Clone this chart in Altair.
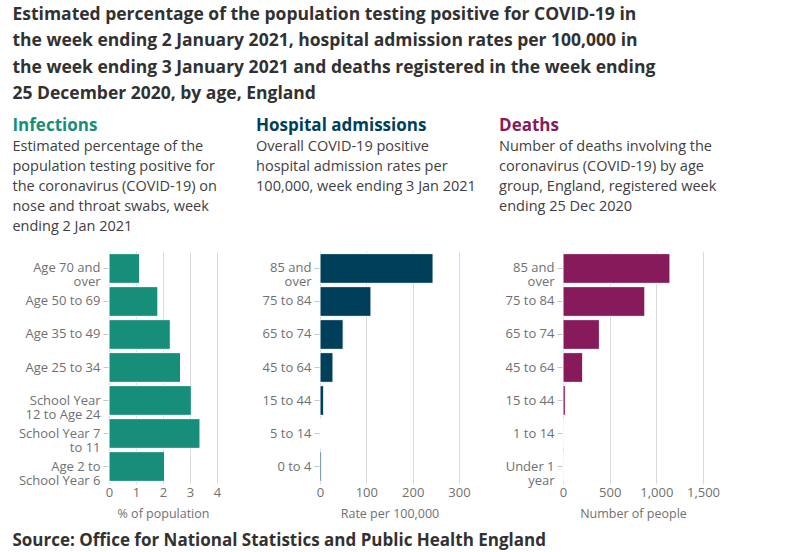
import altair as alt
import pandas as pd

# Infections: % testing positive, week ending 2 Jan 2021
inf_groups = ["Age 70 and over", "Age 50 to 69", "Age 35 to 49", "Age 25 to 34",
              "School Year 12 to Age 24", "School Year 7 to 11", "Age 2 to School Year 6"]
inf_values = [1.13, 1.81, 2.27, 2.65, 3.05, 3.37, 2.06]

# Hospital admissions per 100,000, week ending 3 Jan 2021
hosp_groups = ["85 and over", "75 to 84", "65 to 74", "45 to 64", "15 to 44", "5 to 14", "0 to 4"]
hosp_values = [244, 110, 50, 28, 8, 1, 3.5]

# Deaths registered, week ending 25 Dec 2020
death_groups = ["85 and over", "75 to 84", "65 to 74", "45 to 64", "15 to 44", "1 to 14", "Under 1 year"]
death_values = [1146, 877, 390, 211, 25, 0, 0]

# Where long category names break onto two lines
wrapped = {
    "Age 70 and over": ["Age 70 and", "over"],
    "School Year 12 to Age 24": ["School Year", "12 to Age 24"],
    "School Year 7 to 11": ["School Year 7", "to 11"],
    "Age 2 to School Year 6": ["Age 2 to", "School Year 6"],
    "85 and over": ["85 and", "over"],
    "Under 1 year": ["Under 1", "year"],
}

FONT = "Open Sans"
TEXT = "#414042"
AXIS = "#707071"


def label_expr():
    expr = "datum.label"
    for key, lines in wrapped.items():
        arr = "[" + ", ".join("'" + s + "'" for s in lines) + "]"
        expr = f"datum.label == '{key}' ? {arr} : ({expr})"
    return expr


def panel(groups, values, color, heading, desc, domain, ticks, xtitle, fmt, width):
    df = pd.DataFrame({"group": groups, "value": values})
    desc = desc + [" "] * (5 - len(desc))
    title = alt.TitleParams(
        heading, subtitle=desc, anchor="start", frame="bounds", dx=-6,
        font=FONT, fontSize=17, fontWeight="bold", color=color,
        subtitleFont=FONT, subtitleFontSize=14.5, subtitleColor=TEXT,
        subtitleLineHeight=20, subtitlePadding=5, offset=17,
    )
    return alt.Chart(df, title=title).mark_bar(
        color=color, stroke="white", strokeWidth=1
    ).encode(
        x=alt.X("value:Q",
                scale=alt.Scale(domain=domain, nice=False),
                axis=alt.Axis(values=ticks, title=xtitle, format=fmt,
                              grid=True, gridColor="#dcdcdc", ticks=False,
                              domain=False, labelPadding=2, titlePadding=8,
                              labelFlush=False, labelOverlap=False,
                              labelFont=FONT, labelFontSize=13, labelColor=AXIS,
                              titleFont=FONT, titleFontSize=12.5,
                              titleFontWeight="normal", titleColor=AXIS)),
        y=alt.Y("group:N", sort=groups,
                scale=alt.Scale(paddingInner=0.1, paddingOuter=0.08),
                axis=alt.Axis(title=None, domain=False, tickSize=6,
                              tickColor="#c8c8c8", labelPadding=3,
                              labelExpr=label_expr(), labelLineHeight=14,
                              labelFont=FONT, labelFontSize=13, labelColor=AXIS)),
        tooltip=["group:N", "value:Q"],
    ).properties(width=width, height=233)


infections = panel(
    inf_groups, inf_values, "#178e7a", "Infections",
    ["Estimated percentage of the", "population testing positive for",
     "the coronavirus (COVID-19) on", "nose and throat swabs, week",
     "ending 2 Jan 2021"],
    [0, 4], [0, 1, 2, 3, 4], "% of population", "d", 108,
)

hospital = panel(
    hosp_groups, hosp_values, "#003f5a", "Hospital admissions",
    ["Overall COVID-19 positive", "hospital admission rates per",
     "100,000, week ending 3 Jan 2021"],
    [0, 300], [0, 100, 200, 300], "Rate per 100,000", "d", 139,
)

deaths = panel(
    death_groups, death_values, "#861a5b", "Deaths",
    ["Number of deaths involving the", "coronavirus (COVID-19) by age",
     "group, England, registered week", "ending 25 Dec 2020"],
    [0, 1500], [0, 500, 1000, 1500], "Number of people", ",d", 140,
)

source = alt.TitleParams(
    "Source: Office for National Statistics and Public Health England",
    orient="bottom", anchor="start", frame="bounds",
    font=FONT, fontSize=17, fontWeight="bold", color="#323132", offset=13,
)

panels = alt.hconcat(
    alt.hconcat(infections, hospital, spacing=35),
    deaths,
    spacing=23,
    title=source,
)

chart = alt.vconcat(
    panels,
    title=alt.TitleParams(
        ["Estimated percentage of the population testing positive for COVID-19 in",
         "the week ending 2 January 2021, hospital admission rates per 100,000 in",
         "the week ending 3 January 2021 and deaths registered in the week ending",
         "25 December 2020, by age, England"],
        anchor="start", font=FONT, fontSize=17.5, fontWeight="bold",
        color="#323132", lineHeight=26.5, offset=14,
    ),
).properties(
    padding={"left": 12, "top": 5, "right": 5, "bottom": 5},
    background="white",
).configure_view(stroke=None)

chart.save("out.html", embed_options={"renderer": "svg", "actions": False})
